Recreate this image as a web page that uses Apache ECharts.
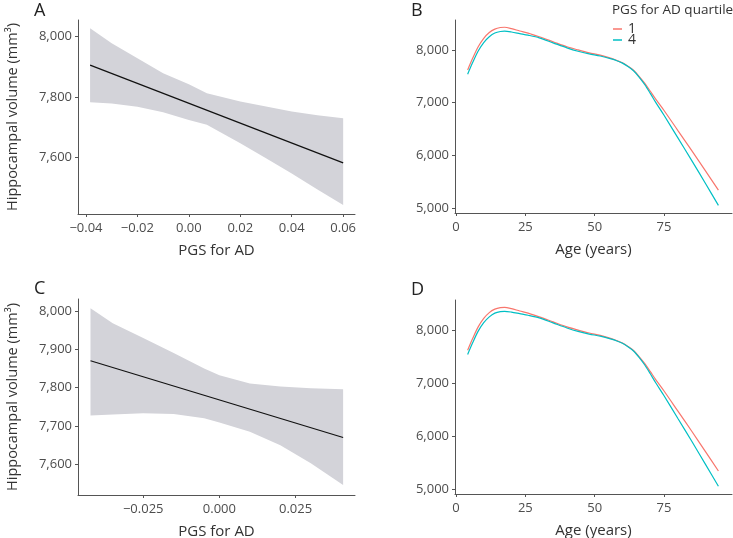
<!DOCTYPE html>
<html>
<head>
<meta charset="utf-8">
<script src="https://cdn.jsdelivr.net/npm/echarts@6/dist/echarts.min.js"></script>
<style>
html,body{margin:0;padding:0;background:#fff;}
#c{width:733px;height:538px;}
</style>
</head>
<body>
<div id="c"></div>
<script>
// ---- Panel A data ----
const bandXA = [-0.0384, -0.03, -0.02, -0.01, 0.0, 0.007, 0.02, 0.03, 0.04, 0.05, 0.06];
const upperA = [8028, 7978, 7929, 7879, 7843, 7813, 7786, 7769, 7753, 7740, 7730];
const lowerA = [7783, 7779, 7768, 7750, 7725, 7709, 7648, 7598, 7548, 7495, 7444];
const fitXA = [-0.0384, 0.06];
const fitYA = [7906, 7583];
const xTicksA = [-0.04, -0.02, 0.00, 0.02, 0.04, 0.06];
const xLabelsA = ["\u22120.04", "\u22120.02", "0.00", "0.02", "0.04", "0.06"];
const yTicksA = [7600, 7800, 8000];

// ---- Panel C data ----
const bandXC = [-0.0423, -0.035, -0.025, -0.015, -0.005, 0.0, 0.01, 0.02, 0.03, 0.0406];
const upperC = [8007, 7968, 7929, 7890, 7850, 7832, 7811, 7803, 7798, 7796];
const lowerC = [7727, 7730, 7733, 7731, 7720, 7709, 7685, 7650, 7603, 7546];
const fitXC = [-0.0423, 0.0406];
const fitYC = [7870, 7670];
const xTicksC = [-0.025, 0.0, 0.025];
const xLabelsC = ["\u22120.025", "0.000", "0.025"];
const yTicksC = [7600, 7700, 7800, 7900, 8000];

// ---- Panels B and D data (age trajectories) ----
const ages = [4.2, 6, 8, 10, 12, 14, 16, 17.5, 20, 23, 26, 30, 35, 40, 44, 48, 52, 56, 58, 60, 62, 64, 66, 68, 70, 72, 75, 80, 85, 90, 94.6];
const q1 = [7620, 7840, 8060, 8220, 8330, 8395, 8425, 8430, 8405, 8360, 8320, 8250, 8155, 8060, 8000, 7945, 7900, 7840, 7800, 7755, 7690, 7615, 7500, 7370, 7220, 7065, 6850, 6470, 6090, 5700, 5340];
const q4 = [7540, 7760, 7980, 8140, 8250, 8320, 8350, 8355, 8340, 8310, 8280, 8230, 8135, 8040, 7975, 7925, 7885, 7830, 7795, 7750, 7685, 7605, 7485, 7345, 7180, 7005, 6760, 6330, 5900, 5460, 5050];
const ageTicks = [0, 25, 50, 75];
const volTicks = [5000, 6000, 7000, 8000];
const legendNames = ["1", "4"];

const RED = "#F8766D", CYAN = "#00BFC4", BAND = "#d3d3d9";
const FONT = "Open Sans";
const fmtComma = v => Math.round(v).toLocaleString("en-US");

function zip(a, b) { return a.map((v, i) => [v, b[i]]); }

function bandSeries(xs, lo, hi, idx) {
  return {
    type: "custom", xAxisIndex: idx, yAxisIndex: idx, silent: true, z: 1,
    data: xs.map((x, i) => [x, lo[i], hi[i]]),
    encode: { x: 0, y: [1, 2] },
    renderItem: function (params, api) {
      if (params.dataIndex !== 0) return null;
      const pts = [];
      for (let i = 0; i < xs.length; i++) pts.push(api.coord([xs[i], hi[i]]));
      for (let i = xs.length - 1; i >= 0; i--) pts.push(api.coord([xs[i], lo[i]]));
      return { type: "polygon", shape: { points: pts }, style: { fill: BAND } };
    }
  };
}

function valueAxis(opts) {
  const o = {
    type: "value", gridIndex: opts.grid, min: opts.min, max: opts.max,
    splitLine: { show: false },
    axisLine: { show: true, onZero: false, lineStyle: { color: "#555", width: 1 } },
    axisTick: { show: true, length: 3, lineStyle: { color: "#555" }, customValues: opts.ticks },
    axisLabel: {
      customValues: opts.ticks, color: "#4d4d4d", fontSize: 13, fontFamily: FONT,
      margin: opts.margin, formatter: opts.formatter
    }
  };
  if (opts.name) {
    o.name = opts.name; o.nameLocation = "middle"; o.nameGap = opts.nameGap;
    o.nameTextStyle = { color: "#333", fontSize: opts.nameSize, fontFamily: FONT };
  }
  return o;
}

const labA = v => { const i = xTicksA.findIndex(t => Math.abs(t - v) < 1e-9); return i >= 0 ? xLabelsA[i] : ""; };
const labC = v => { const i = xTicksC.findIndex(t => Math.abs(t - v) < 1e-9); return i >= 0 ? xLabelsC[i] : ""; };

const chart = echarts.init(document.getElementById("c"), null, { renderer: "canvas" });
chart.setOption({
  animation: false,
  backgroundColor: "#fff",
  textStyle: { fontFamily: FONT },
  grid: [
    { left: 78, top: 20, width: 277, height: 194, outerBoundsMode: "none" },
    { left: 455, top: 20, width: 277, height: 193, outerBoundsMode: "none" },
    { left: 78, top: 299, width: 277, height: 196, outerBoundsMode: "none" },
    { left: 455, top: 300, width: 277, height: 194, outerBoundsMode: "none" }
  ],
  xAxis: [
    valueAxis({ grid: 0, min: -0.0431, max: 0.0646, ticks: xTicksA, formatter: labA, margin: 8, name: "PGS for AD", nameGap: 29, nameSize: 15 }),
    valueAxis({ grid: 1, min: -0.36, max: 99.5, ticks: ageTicks, formatter: v => String(v), margin: 8, name: "Age (years)", nameGap: 29, nameSize: 15 }),
    valueAxis({ grid: 2, min: -0.0464, max: 0.0445, ticks: xTicksC, formatter: labC, margin: 8, name: "PGS for AD", nameGap: 29, nameSize: 15 }),
    valueAxis({ grid: 3, min: -0.36, max: 99.5, ticks: ageTicks, formatter: v => String(v), margin: 8, name: "Age (years)", nameGap: 29, nameSize: 15 })
  ],
  yAxis: [
    valueAxis({ grid: 0, min: 7414, max: 8055, ticks: yTicksA, formatter: fmtComma, margin: 6, name: "Hippocampal volume (mm\u00B3)", nameGap: 58, nameSize: 14.5 }),
    valueAxis({ grid: 1, min: 4905, max: 8568, ticks: volTicks, formatter: fmtComma, margin: 6 }),
    valueAxis({ grid: 2, min: 7520, max: 8031, ticks: yTicksC, formatter: fmtComma, margin: 6, name: "Hippocampal volume (mm\u00B3)", nameGap: 58, nameSize: 14.5 }),
    valueAxis({ grid: 3, min: 4905, max: 8568, ticks: volTicks, formatter: fmtComma, margin: 6 })
  ],
  legend: {
    show: true, data: legendNames, orient: "vertical", left: 613, top: 22, padding: 0,
    itemWidth: 9, itemHeight: 1.5, itemGap: -3, icon: "rect",
    textStyle: { fontSize: 14, color: "#333", fontFamily: FONT, padding: [0, 0, 0, 1] },
    selectedMode: false
  },
  graphic: [
    { type: "text", left: 34, top: 2, style: { text: "A", fontSize: 18, fill: "#222", fontFamily: FONT } },
    { type: "text", left: 411, top: 2, style: { text: "B", fontSize: 18, fill: "#222", fontFamily: FONT } },
    { type: "text", left: 34, top: 280, style: { text: "C", fontSize: 18, fill: "#222", fontFamily: FONT } },
    { type: "text", left: 411, top: 281, style: { text: "D", fontSize: 18, fill: "#222", fontFamily: FONT } },
    { type: "text", left: 612, top: 3, style: { text: "PGS for AD quartile", fontSize: 13.5, fill: "#333", fontFamily: FONT } }
  ],
  series: [
    bandSeries(bandXA, lowerA, upperA, 0),
    { type: "line", xAxisIndex: 0, yAxisIndex: 0, data: zip(fitXA, fitYA), showSymbol: false, z: 3,
      lineStyle: { color: "#111", width: 1.2 }, itemStyle: { color: "#111" } },
    bandSeries(bandXC, lowerC, upperC, 2),
    { type: "line", xAxisIndex: 2, yAxisIndex: 2, data: zip(fitXC, fitYC), showSymbol: false, z: 3,
      lineStyle: { color: "#111", width: 1.2 }, itemStyle: { color: "#111" } },
    { name: "1", type: "line", xAxisIndex: 1, yAxisIndex: 1, data: zip(ages, q1), showSymbol: false, smooth: 0.3,
      lineStyle: { color: RED, width: 1.2 }, itemStyle: { color: RED } },
    { name: "4", type: "line", xAxisIndex: 1, yAxisIndex: 1, data: zip(ages, q4), showSymbol: false, smooth: 0.3,
      lineStyle: { color: CYAN, width: 1.2 }, itemStyle: { color: CYAN } },
    { name: "1", type: "line", xAxisIndex: 3, yAxisIndex: 3, data: zip(ages, q1), showSymbol: false, smooth: 0.3,
      lineStyle: { color: RED, width: 1.2 }, itemStyle: { color: RED } },
    { name: "4", type: "line", xAxisIndex: 3, yAxisIndex: 3, data: zip(ages, q4), showSymbol: false, smooth: 0.3,
      lineStyle: { color: CYAN, width: 1.2 }, itemStyle: { color: CYAN } }
  ]
});
</script>
</body>
</html>
